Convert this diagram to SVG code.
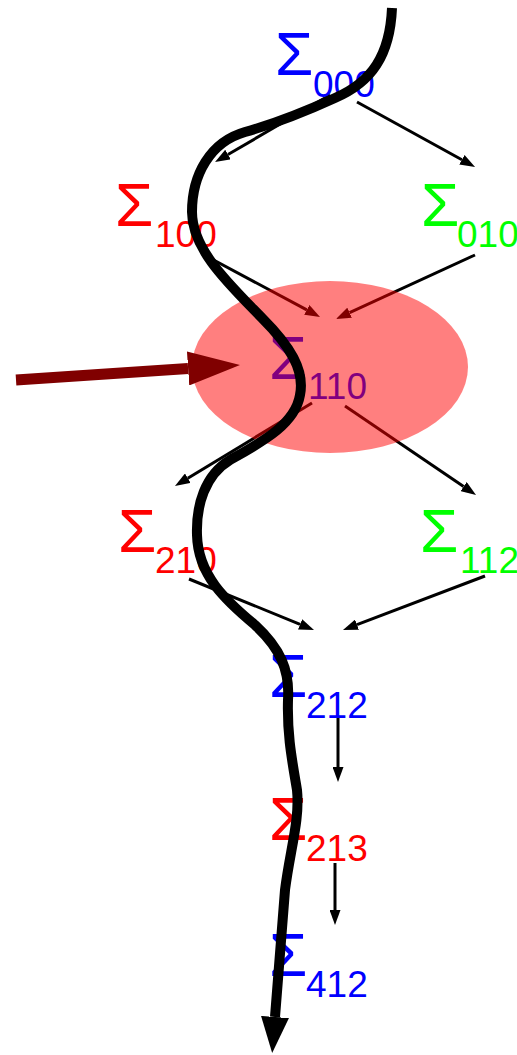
<svg xmlns="http://www.w3.org/2000/svg" width="517" height="1055" viewBox="0 0 517 1055">
<style>
.lbl{font-family:"Liberation Sans",Arial,sans-serif}
.sg{font-size:62px}
.sb{font-size:37px}
.blue{fill:#0000ff}
.red{fill:#ff0000}
.green{fill:#00ff00}
.edge{fill:none;stroke:#000;stroke-width:3;marker-end:url(#arr)}
</style>
<defs>
<marker id="arr" markerUnits="userSpaceOnUse" markerWidth="15" markerHeight="11" viewBox="0 -5.5 15 11" refX="0" refY="0" orient="auto"><path d="M0,-5.5 L15,0 L0,5.5 z" fill="#000"/></marker>
<marker id="bigarr" markerUnits="userSpaceOnUse" markerWidth="52" markerHeight="34" viewBox="0 -17 52 34" refX="0" refY="0" orient="auto"><path d="M0,-17 L52,0 L0,17 z" fill="#800000"/></marker>
<marker id="curvearr" markerUnits="userSpaceOnUse" markerWidth="36" markerHeight="28" viewBox="0 -14 36 28" refX="0" refY="0" orient="auto"><path d="M0,-14 L36,0 L0,14 z" fill="#000"/></marker>
</defs>
<g id="connectors">
<path class="edge" d="M330,95 L228,154.5"/>
<path class="edge" d="M357,102 L461.9,159.8"/>
<path class="edge" d="M208,257 L306.8,309.9"/>
<path class="edge" d="M475,255 L349.6,312.7"/>
<path class="edge" d="M312,403 L187.8,478.2"/>
<path class="edge" d="M345,406 L463.6,486.6"/>
<path class="edge" d="M189,579 L300.1,624.3"/>
<path class="edge" d="M485,576 L357,624.7"/>
<path class="edge" d="M338,717 L338,767"/>
<path class="edge" d="M335,863 L335,910"/>
</g>
<g id="n000"><text class="lbl blue"><tspan class="sg" x="275" y="75">Σ</tspan><tspan class="sb" x="313" y="97">000</tspan></text></g>
<g id="n100"><text class="lbl red"><tspan class="sg" x="115" y="226">Σ</tspan><tspan class="sb" x="155" y="247">100</tspan></text></g>
<g id="n010"><text class="lbl green"><tspan class="sg" x="421" y="226">Σ</tspan><tspan class="sb" x="457" y="247">010</tspan></text></g>
<g id="n110"><text class="lbl blue"><tspan class="sg" x="269" y="379">Σ</tspan><tspan class="sb" x="308" y="399">110</tspan></text></g>
<g id="n210"><text class="lbl red"><tspan class="sg" x="118" y="552">Σ</tspan><tspan class="sb" x="155" y="573">210</tspan></text></g>
<g id="n112"><text class="lbl green"><tspan class="sg" x="420" y="552">Σ</tspan><tspan class="sb" x="460" y="573">112</tspan></text></g>
<g id="n212"><text class="lbl blue"><tspan class="sg" x="269" y="697">Σ</tspan><tspan class="sb" x="306" y="718">212</tspan></text></g>
<g id="n213"><text class="lbl red"><tspan class="sg" x="269" y="840">Σ</tspan><tspan class="sb" x="306" y="861">213</tspan></text></g>
<g id="n412"><text class="lbl blue"><tspan class="sg" x="269" y="976">Σ</tspan><tspan class="sb" x="306" y="997">412</tspan></text></g>
<g id="highlight"><ellipse cx="330" cy="367" rx="138" ry="86" fill="#ff0000" fill-opacity="0.5"/></g>
<g id="pointer"><path d="M16,380 L188.1,368.5" fill="none" stroke="#800000" stroke-width="11" marker-end="url(#bigarr)"/></g>
<g id="path"><path d="M392,8 C390,55 372,82 335,98 C300,114 270,125 245,132 C210,142 192,175 192,212 C192,250 230,285 262,318 C290,346 305,370 300,395 C295,425 260,443 230,460 C205,475 196,505 197,535 C198,575 225,600 255,625 C280,648 290,670 288,700 C287,735 292,760 297,790 C300,820 290,850 285,890 L275,1017" fill="none" stroke="#000" stroke-width="10" marker-end="url(#curvearr)"/></g>
</svg>
